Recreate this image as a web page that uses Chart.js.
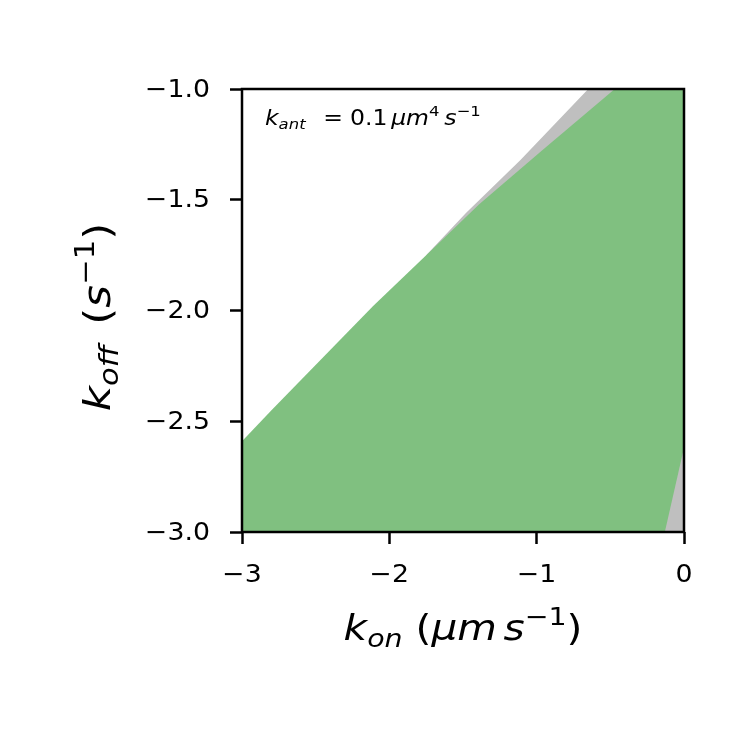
<!DOCTYPE html>
<html>
<head>
<meta charset="utf-8">
<script src="https://cdn.jsdelivr.net/npm/chart.js@4"></script>
<style>
  html, body { margin: 0; padding: 0; background: #fff; }
  #wrap { width: 750px; height: 750px; }
</style>
</head>
<body>
<div id="wrap"><canvas id="regionChart" width="750" height="750"></canvas></div>
<script>
// Axis ticks
const xTicks = [-3, -2, -1, 0];
const yTicks = [-3.0, -2.5, -2.0, -1.5, -1.0];

// Upper edge of the green region (log10 kon, log10 koff)
const greenX = [-3, -2.80, -2.11, -1.75, -1.39, -0.95, -0.47, 0];
const greenY = [-2.59, -2.45, -1.98, -1.75, -1.52, -1.27, -1.0, -1.0];

// Upper edge of the grey band that sits just above the green edge
const grayX = [-1.75, -1.48, -1.11, -0.65, 0];
const grayY = [-1.75, -1.56, -1.32, -1.0, -1.0];

// Small grey wedge in the bottom-right corner
const wedgeX = [-0.13, 0];
const wedgeY = [-3.0, -2.62];

const GREEN = '#80c080';
const GRAY = '#bfbfbf';
const FONT = "'DejaVu Sans', sans-serif";

const toPoints = (xs, ys) => xs.map((x, i) => ({ x: x, y: ys[i] }));
const minus = v => String(v).replace('-', '\u2212');

// Text drawn with a slight horizontal stretch, like the reference
function stretchText(ctx, text, x, y, sx, align, baseline) {
    ctx.save();
    ctx.translate(x, y);
    ctx.scale(sx, 1);
    ctx.textAlign = align;
    ctx.textBaseline = baseline;
    ctx.fillText(text, 0, 0);
    ctx.restore();
}

// Little mathtext run: [{t, it, sub, sup}] or {gap: em}
function drawMath(ctx, parts, size, sx, x, y, align) {
    const fontOf = p => {
        const s = (p.sub || p.sup) ? size * 0.7 : size;
        return (p.it ? 'italic ' : '') + s + 'px ' + FONT;
    };
    const widthOf = p => {
        if (p.gap) return p.gap * size;
        ctx.font = fontOf(p);
        return ctx.measureText(p.t).width;
    };
    let total = 0;
    parts.forEach(p => { total += widthOf(p); });
    ctx.save();
    ctx.translate(x, y);
    ctx.scale(sx, 1);
    let cx = align === 'center' ? -total / 2 : 0;
    ctx.textBaseline = 'alphabetic';
    ctx.textAlign = 'left';
    parts.forEach(p => {
        if (!p.gap) {
            ctx.font = fontOf(p);
            let dy = 0;
            if (p.sub) dy = size * 0.2;
            if (p.sup) dy = -size * 0.42;
            ctx.fillText(p.t, cx, dy);
        }
        cx += widthOf(p);
    });
    ctx.restore();
}

const labelsPlugin = {
    id: 'mathLabels',
    afterDraw(chart) {
        const ctx = chart.ctx;
        const a = chart.chartArea;
        const xs = chart.scales.x;
        const ys = chart.scales.y;
        ctx.save();
        // frame
        ctx.strokeStyle = '#000';
        ctx.lineWidth = 2.5;
        ctx.strokeRect(a.left, a.top, a.right - a.left, a.bottom - a.top);
        ctx.fillStyle = '#000';

        // tick labels
        ctx.font = '25px ' + FONT;
        yTicks.forEach(v => {
            stretchText(ctx, minus(v.toFixed(1)), 210, ys.getPixelForValue(v) + 1, 1.07, 'right', 'middle');
        });
        xTicks.forEach(v => {
            stretchText(ctx, minus(v), xs.getPixelForValue(v), 582, 1.07, 'center', 'alphabetic');
        });

        // x title
        drawMath(ctx, [
            { t: 'k', it: true }, { t: 'on', it: true, sub: true },
            { t: ' (' }, { t: '\u03bcm', it: true }, { gap: 0.16 },
            { t: 's', it: true }, { t: '\u22121', sup: true }, { t: ')' }
        ], 36, 1.13, (a.left + a.right) / 2, 640, 'center');

        // y title (rotated)
        ctx.save();
        ctx.translate(110, 317);
        ctx.rotate(-Math.PI / 2);
        drawMath(ctx, [
            { t: 'k', it: true }, { t: 'off', it: true, sub: true },
            { gap: 0.15 }, { t: ' (' }, { t: 's', it: true }, { t: '\u22121', sup: true }, { t: ')' }
        ], 38, 1.15, 0, 0, 'center');
        ctx.restore();

        // annotation
        drawMath(ctx, [
            { t: 'k', it: true }, { t: 'ant', it: true, sub: true },
            { gap: 0.75 }, { t: '=' }, { gap: 0.3 }, { t: '0.1' }, { gap: 0.16 },
            { t: '\u03bcm', it: true }, { t: '4', sup: true },
            { gap: 0.2 }, { t: 's', it: true }, { t: '\u22121', sup: true }
        ], 21, 1.12, 265, 125, 'left');
        ctx.restore();
    }
};

new Chart(document.getElementById('regionChart'), {
    type: 'scatter',
    data: {
        datasets: [
            {
                label: 'wedge',
                data: toPoints(wedgeX, wedgeY),
                showLine: true,
                borderWidth: 0,
                borderColor: 'rgba(0,0,0,0)',
                backgroundColor: GRAY,
                pointRadius: 0,
                fill: 'start',
                order: 1
            },
            {
                label: 'green',
                data: toPoints(greenX, greenY),
                showLine: true,
                borderWidth: 0,
                borderColor: 'rgba(0,0,0,0)',
                backgroundColor: GREEN,
                pointRadius: 0,
                fill: 'start',
                order: 2
            },
            {
                label: 'gray',
                data: toPoints(grayX, grayY),
                showLine: true,
                borderWidth: 0,
                borderColor: 'rgba(0,0,0,0)',
                backgroundColor: GRAY,
                pointRadius: 0,
                fill: 'start',
                order: 3
            }
        ]
    },
    options: {
        responsive: false,
        animation: false,
        devicePixelRatio: 1,
        layout: { padding: { top: 89, right: 66, left: 0, bottom: 0 } },
        scales: {
            x: {
                type: 'linear',
                min: -3,
                max: 0,
                afterFit: s => { s.height = 218; },
                afterBuildTicks: s => { s.ticks = xTicks.map(v => ({ value: v })); },
                ticks: { display: false },
                grid: { drawOnChartArea: false, tickLength: 12, tickWidth: 2.5, tickColor: '#000' },
                border: { display: false }
            },
            y: {
                type: 'linear',
                min: -3,
                max: -1,
                afterFit: s => { s.width = 242; },
                afterBuildTicks: s => { s.ticks = yTicks.map(v => ({ value: v })); },
                ticks: { display: false },
                grid: { drawOnChartArea: false, tickLength: 12, tickWidth: 2.5, tickColor: '#000' },
                border: { display: false }
            }
        },
        plugins: {
            legend: { display: false },
            tooltip: { enabled: false }
        }
    },
    plugins: [labelsPlugin]
});
</script>
</body>
</html>
